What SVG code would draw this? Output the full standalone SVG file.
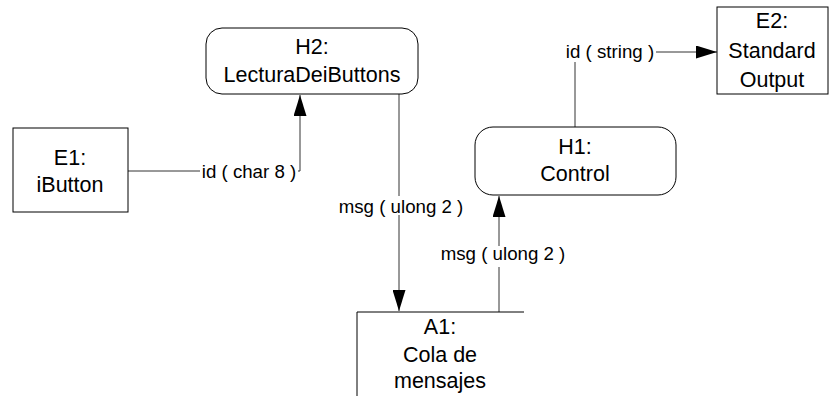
<svg xmlns="http://www.w3.org/2000/svg" width="830" height="396" viewBox="0 0 830 396">
<defs>
<marker id="arr" viewBox="0 0 21 13" refX="21" refY="6.5" markerWidth="21" markerHeight="13" markerUnits="userSpaceOnUse" orient="auto">
<path d="M0,0 L21,6.5 L0,13 Z" fill="#000"/>
</marker>
<style>
.box{fill:#fff;stroke:#000;stroke-width:1}
.nt{font-family:"Liberation Sans",Arial,sans-serif;font-size:21.5px;fill:#000;text-anchor:middle}
.lt{font-family:"Liberation Sans",Arial,sans-serif;font-size:18.7px;fill:#000;text-anchor:middle}
.cn{fill:none;stroke:#333;stroke-width:1}
.bg{fill:#fff}
</style>
</defs>
<rect width="830" height="396" fill="#fff"/>
<g id="connectors">
<path class="cn" d="M128,171 H300 V95" marker-end="url(#arr)"/>
<path class="cn" d="M399,94 V311" marker-end="url(#arr)"/>
<path class="cn" d="M499,312 V196" marker-end="url(#arr)"/>
<path class="cn" d="M575,127 V52 H717" marker-end="url(#arr)"/>
<rect class="bg" x="200" y="160" width="98" height="22"/>
<text class="lt" x="249" y="178">id ( char 8 )</text>
<rect class="bg" x="337" y="196" width="130" height="19"/>
<text class="lt" x="401" y="213">msg ( ulong 2 )</text>
<rect class="bg" x="437" y="246" width="132" height="21"/>
<text class="lt" x="503" y="260">msg ( ulong 2 )</text>
<rect class="bg" x="564" y="41" width="92" height="21"/>
<text class="lt" x="610" y="58">id ( string )</text>
</g>
<g id="E1">
<rect class="box" x="13" y="128" width="115" height="84"/>
<text class="nt" x="70" y="165">E1:</text>
<text class="nt" x="70" y="192">iButton</text>
</g>
<g id="H2">
<rect class="box" x="206" y="28" width="212" height="66" rx="16" ry="16"/>
<text class="nt" x="312" y="54">H2:</text>
<text class="nt" x="312" y="82">LecturaDeiButtons</text>
</g>
<g id="H1">
<rect class="box" x="475" y="127" width="201" height="68" rx="18" ry="18"/>
<text class="nt" x="575" y="154">H1:</text>
<text class="nt" x="575" y="181">Control</text>
</g>
<g id="E2">
<rect class="box" x="717" y="7" width="111" height="87"/>
<text class="nt" x="772" y="28">E2:</text>
<text class="nt" x="772" y="58">Standard</text>
<text class="nt" x="772" y="87">Output</text>
</g>
<g id="A1">
<path class="box" d="M524,312 H357 V396" fill="none"/>
<text class="nt" x="440" y="334">A1:</text>
<text class="nt" x="440" y="362">Cola de</text>
<text class="nt" x="440" y="388">mensajes</text>
</g>
</svg>
